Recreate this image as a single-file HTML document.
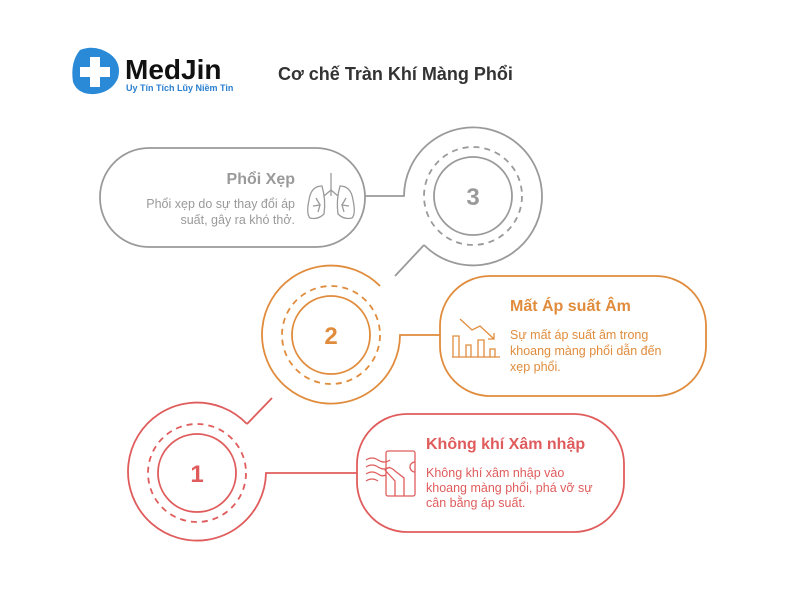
<!DOCTYPE html>
<html><head><meta charset="utf-8"><style>
html,body{margin:0;padding:0;background:#fff;}
svg{display:block;font-family:"Liberation Sans","DejaVu Sans",sans-serif;}
</style></head><body>
<svg width="800" height="600" viewBox="0 0 800 600" xmlns="http://www.w3.org/2000/svg">
<rect width="800" height="600" fill="#fff"/>
<!-- Logo -->
<path d="M80 50 Q95 44 110 54 Q122 63 118 78 Q112 92 95 94 Q78 95 73 82 Q70 62 80 50 Z" fill="#2a8ad8"/>
<path d="M90 57 h10 v10 h10 v10 h-10 v10 h-10 v-10 h-10 v-10 h10 z" fill="#fff"/>
<text x="125" y="79" font-size="28" font-weight="bold" fill="#111">MedJin</text>
<text x="126" y="91" font-size="9" font-weight="bold" fill="#2a7fd0">Uy Tín Tích Lũy Niềm Tin</text>
<text x="278" y="80" font-size="18" font-weight="bold" fill="#333">Cơ chế Tràn Khí Màng Phổi</text>

<g fill="none" stroke-width="1.8">
<!-- Circle 3 gray -->
<g stroke="#9a9a9a">
<path d="M424 245 A69 69 0 1 0 404 196 H365"/>
<line x1="424" y1="245" x2="395" y2="276"/>
<circle cx="473" cy="196" r="49" stroke-dasharray="6 5"/>
<circle cx="473" cy="196" r="39"/>
<rect x="100" y="148" width="265" height="99" rx="49"/>
</g>
<!-- Circle 2 orange -->
<g stroke="#e08c3c">
<path d="M380 286 A69 69 0 1 0 400 335 H440"/>
<circle cx="331" cy="335" r="49" stroke-dasharray="6 5"/>
<circle cx="331" cy="335" r="39"/>
<rect x="440" y="276" width="266" height="120" rx="50"/>
</g>
<!-- Circle 1 red -->
<g stroke="#e05c5c">
<path d="M247 424 A69 69 0 1 0 266 473 H357"/>
<line x1="247" y1="424" x2="272" y2="398"/>
<circle cx="197" cy="473" r="49" stroke-dasharray="6 5"/>
<circle cx="197" cy="473" r="39"/>
<rect x="357" y="414" width="267" height="118" rx="50"/>
</g>
</g>

<text x="473" y="205" font-size="24" font-weight="bold" fill="#9a9a9a" text-anchor="middle">3</text>
<text x="331" y="344" font-size="24" font-weight="bold" fill="#e08c3c" text-anchor="middle">2</text>
<text x="197" y="482" font-size="24" font-weight="bold" fill="#e05c5c" text-anchor="middle">1</text>

<!-- Box 3 text -->
<text x="295" y="184" font-size="16" font-weight="bold" fill="#9a9a9a" text-anchor="end">Phổi Xẹp</text>
<text x="295" y="208" font-size="12.5" fill="#9a9a9a" text-anchor="end">Phổi xẹp do sự thay đổi áp</text>
<text x="295" y="224" font-size="12.5" fill="#9a9a9a" text-anchor="end">suất, gây ra khó thở.</text>
<!-- lungs icon -->
<g fill="none" stroke="#9a9a9a" stroke-width="1.3">
<line x1="331" y1="173" x2="331" y2="196"/>
<path d="M331 190 L324 196 M331 190 L338 196"/>
<path d="M322 186 Q311 186 309 200 Q306 214 310 218 Q318 220 324 214 Q326 200 322 186 Z"/>
<path d="M340 186 Q351 186 353 200 Q356 214 352 218 Q344 220 338 214 Q336 200 340 186 Z"/>
<path d="M316 198 L320 205 M313 206 L320 205 L318 212 M346 198 L342 205 M349 206 L342 205 L344 212"/>
</g>

<!-- Box 2 text -->
<text x="510" y="311" font-size="16" font-weight="bold" fill="#e08c3c">Mất Áp suất Âm</text>
<text x="510" y="339" font-size="12.5" fill="#e08c3c">Sự mất áp suất âm trong</text>
<text x="510" y="355" font-size="12.5" fill="#e08c3c">khoang màng phổi dẫn đến</text>
<text x="510" y="371" font-size="12.5" fill="#e08c3c">xẹp phổi.</text>
<g fill="none" stroke="#e08c3c" stroke-width="1.3">
<path d="M460 319 L472 330 L480 326 L494 339 M488 339 L494 339 L494 333"/>
<path d="M452 357 H500"/>
<path d="M453 357 V336 H459 V357 M466 357 V345 H471 V357 M478 357 V340 H484 V357 M490 357 V349 H495 V357"/>
</g>

<!-- Box 1 text -->
<text x="426" y="449" font-size="16" font-weight="bold" fill="#e05c5c">Không khí Xâm nhập</text>
<text x="426" y="477" font-size="12.5" fill="#e05c5c">Không khí xâm nhập vào</text>
<text x="426" y="492" font-size="12.5" fill="#e05c5c">khoang màng phổi, phá vỡ sự</text>
<text x="426" y="507" font-size="12.5" fill="#e05c5c">cân bằng áp suất.</text>
<g fill="none" stroke="#e05c5c" stroke-width="1.3">
<rect x="386" y="451" width="29" height="45" rx="2"/>
<path d="M415 462 A5 5 0 0 0 415 472"/>
<path d="M395 496 V481 L385 470 Q389 465 395 471 L404 478 V496"/>
<path d="M366 460 Q372 456 378 460 Q384 464 390 460 M366 467 Q372 463 378 467 Q384 471 390 467 M366 474 Q372 470 378 474 Q382 477 386 475 M366 481 Q372 477 378 481"/>
</g>
</svg>
</body></html>
